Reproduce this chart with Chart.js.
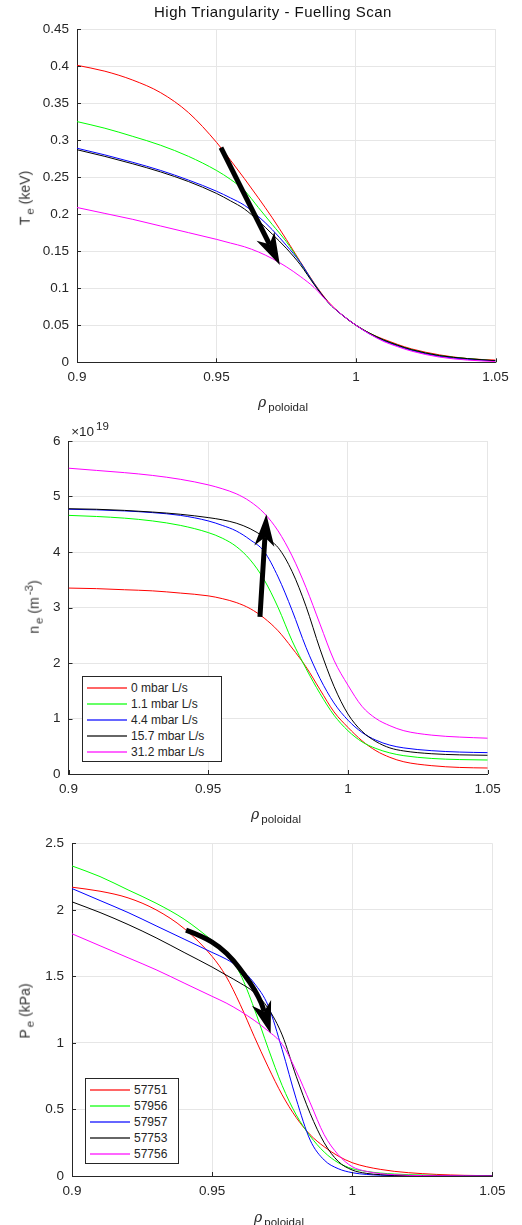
<!DOCTYPE html>
<html>
<head>
<meta charset="utf-8">
<script src="https://cdn.jsdelivr.net/npm/chart.js@4.4.1/dist/chart.umd.min.js"></script>
<style>
  body { margin: 0; background: #fff; }
  #fig { position: relative; width: 522px; height: 1225px; font-family: "Liberation Sans", Arial, sans-serif; color: #262626; }
  canvas { position: absolute; left: 0; }
  .t { position: absolute; white-space: nowrap; font-size: 14px; line-height: 1; transform: translate(-50%, -50%); }
  .rot { transform: translate(-50%, -50%) rotate(-90deg); color: #333; }
  .sb { font-size: 11.5px; position: relative; top: 4px; margin-left: 2px; }
  .sp { font-size: 11.5px; position: relative; top: -6px; margin-left: 2px; }
  .rho { font-style: italic; font-family: "DejaVu Serif", serif; }
  .legend { position: absolute; border: 1px solid #262626; background: #fff; font-size: 12px; }
  .row { position: absolute; left: 0; height: 16px; }
  .row i { position: absolute; width: 40px; height: 0; border-top: 2px solid; }
  .row span { position: absolute; line-height: 1; white-space: nowrap; transform: translateY(-50%); }
</style>
</head>
<body>
<div id="fig">
  <canvas id="teChart" width="522" height="400" style="top:0px"></canvas>
  <canvas id="neChart" width="522" height="420" style="top:400px"></canvas>
  <canvas id="peChart" width="522" height="405" style="top:820px"></canvas>

  <div class="t" style="left:273px; top:11px; color:#111; font-size:15px; letter-spacing:0.5px;">High Triangularity - Fuelling Scan</div>

  <div class="t rot" style="left:25px; top:198px;">T<span class="sb">e</span> (keV)</div>
  <div class="t" style="left:283px; top:402px;"><span class="rho">ρ</span><span class="sb">poloidal</span></div>

  <div class="t" style="left:90px; top:432px; font-size:13.5px;">×10<span class="sp">19</span></div>
  <div class="t rot" style="left:34px; top:607px;">n<span class="sb">e</span> (m<span class="sp">-3</span>)</div>
  <div class="t" style="left:276px; top:814px;"><span class="rho">ρ</span><span class="sb">poloidal</span></div>

  <div class="t rot" style="left:25px; top:1011px;">P<span class="sb">e</span> (kPa)</div>
  <div class="t" style="left:279px; top:1217px;"><span class="rho">ρ</span><span class="sb">poloidal</span></div>

  <div class="legend" id="neLegend" style="left:82px; top:676px; width:138px; height:84px;"></div>
  <div class="legend" id="peLegend" style="left:85px; top:1078px; width:92px; height:84px;"></div>
</div>

<script>
// normalised poloidal flux coordinate, shared by all profiles
const rho = [0.9, 0.91, 0.92, 0.93, 0.94, 0.95, 0.955, 0.96, 0.965, 0.97, 0.975, 0.98,
  0.985, 0.99, 0.995, 1.0, 1.005, 1.01, 1.015, 1.02, 1.03, 1.04, 1.05];

// electron temperature, keV
const te_57751 = [0.401, 0.393, 0.381, 0.364, 0.337, 0.297, 0.273, 0.248, 0.222, 0.195, 0.166, 0.136, 0.107, 0.082, 0.064, 0.050, 0.039, 0.031, 0.024, 0.018, 0.010, 0.005, 0.003];
const te_57956 = [0.325, 0.316, 0.305, 0.293, 0.278, 0.259, 0.247, 0.232, 0.209, 0.186, 0.163, 0.135, 0.106, 0.081, 0.064, 0.050, 0.039, 0.030, 0.023, 0.017, 0.009, 0.005, 0.002];
const te_57957 = [0.289, 0.280, 0.270, 0.259, 0.246, 0.231, 0.222, 0.212, 0.197, 0.179, 0.158, 0.135, 0.106, 0.081, 0.064, 0.050, 0.038, 0.029, 0.022, 0.016, 0.008, 0.004, 0.002];
const te_57753 = [0.287, 0.278, 0.268, 0.257, 0.244, 0.228, 0.218, 0.207, 0.191, 0.173, 0.154, 0.132, 0.105, 0.081, 0.064, 0.050, 0.039, 0.030, 0.023, 0.017, 0.009, 0.005, 0.002];
const te_57756 = [0.209, 0.201, 0.193, 0.184, 0.175, 0.166, 0.161, 0.156, 0.149, 0.140, 0.129, 0.116, 0.101, 0.081, 0.064, 0.050, 0.038, 0.028, 0.021, 0.015, 0.007, 0.003, 0.001];

// electron density, 1e19 m^-3
const ne_57751 = [3.35, 3.34, 3.32, 3.30, 3.26, 3.21, 3.16, 3.09, 2.98, 2.81, 2.58, 2.27, 1.93, 1.52, 1.12, 0.84, 0.60, 0.42, 0.30, 0.22, 0.15, 0.118, 0.108];
const ne_57956 = [4.66, 4.64, 4.61, 4.56, 4.48, 4.35, 4.25, 4.10, 3.86, 3.50, 3.00, 2.40, 1.90, 1.45, 1.06, 0.78, 0.58, 0.46, 0.38, 0.33, 0.28, 0.26, 0.252];
const ne_57957 = [4.77, 4.76, 4.74, 4.71, 4.66, 4.56, 4.48, 4.38, 4.22, 4.01, 3.55, 2.95, 2.28, 1.72, 1.28, 0.97, 0.75, 0.61, 0.52, 0.47, 0.42, 0.395, 0.385];
const ne_57753 = [4.78, 4.77, 4.75, 4.72, 4.68, 4.62, 4.58, 4.52, 4.42, 4.27, 4.08, 3.65, 3.02, 2.25, 1.58, 1.08, 0.77, 0.585, 0.47, 0.415, 0.365, 0.345, 0.337];
const ne_57756 = [5.51, 5.47, 5.43, 5.38, 5.31, 5.21, 5.14, 5.05, 4.91, 4.70, 4.38, 3.93, 3.36, 2.70, 2.05, 1.60, 1.22, 1.00, 0.87, 0.78, 0.70, 0.665, 0.645];

// electron pressure, kPa
const pe_57751 = [2.17, 2.14, 2.09, 2.00, 1.86, 1.65, 1.50, 1.29, 1.05, 0.82, 0.61, 0.44, 0.31, 0.22, 0.15, 0.10, 0.07, 0.05, 0.035, 0.025, 0.012, 0.005, 0.002];
const pe_57956 = [2.33, 2.25, 2.15, 2.05, 1.93, 1.77, 1.68, 1.52, 1.26, 0.96, 0.68, 0.46, 0.30, 0.18, 0.10, 0.055, 0.035, 0.022, 0.015, 0.010, 0.005, 0.002, 0.001];
const pe_57957 = [2.16, 2.07, 1.98, 1.88, 1.78, 1.68, 1.63, 1.56, 1.45, 1.28, 0.95, 0.58, 0.27, 0.12, 0.055, 0.025, 0.012, 0.006, 0.003, 0.002, 0.001, 0.0, 0.0];
const pe_57753 = [2.06, 1.98, 1.89, 1.79, 1.68, 1.57, 1.51, 1.45, 1.38, 1.26, 1.06, 0.75, 0.47, 0.25, 0.11, 0.045, 0.02, 0.01, 0.005, 0.003, 0.001, 0.0, 0.0];
const pe_57756 = [1.82, 1.73, 1.64, 1.55, 1.45, 1.35, 1.30, 1.24, 1.17, 1.09, 0.99, 0.79, 0.55, 0.31, 0.16, 0.07, 0.035, 0.018, 0.01, 0.005, 0.002, 0.001, 0.0];

const fuelling_labels = ['0 mbar L/s', '1.1 mbar L/s', '4.4 mbar L/s', '15.7 mbar L/s', '31.2 mbar L/s'];
const shot_labels = ['57751', '57956', '57957', '57753', '57756'];

// trend arrows, in data units
const te_arrow_x = [0.9516, 0.9727];
const te_arrow_y = [0.290, 0.1315];
const ne_arrow_x = [0.9685, 0.9708];
const ne_arrow_y = [2.83, 4.68];
const pe_arrow_x = [0.9407, 0.9469, 0.9528, 0.9576, 0.9617, 0.9653, 0.9677, 0.9709];
const pe_arrow_y = [1.847, 1.797, 1.721, 1.622, 1.509, 1.396, 1.297, 1.071];

const colours = ['#ff0000', '#00ff00', '#0000ff', '#000000', '#ff00ff'];
const legendColours = ['rgba(255,0,0,0.6)', 'rgba(0,255,0,0.6)', 'rgba(0,0,255,0.6)', 'rgba(0,0,0,0.6)', 'rgba(255,0,255,0.6)'];
const axisColour = '#262626';
const gridColour = '#e6e6e6';

Chart.defaults.font.family = '"Liberation Sans", Arial, sans-serif';
Chart.defaults.font.size = 13.5;
Chart.defaults.color = axisColour;

const fmt = v => String(+Number(v).toFixed(3));

function arrowPlugin(ax, ay) {
  return {
    id: 'arrow',
    afterDatasetsDraw(chart) {
      const {ctx, scales: {x, y}} = chart;
      const pts = ax.map((v, i) => [x.getPixelForValue(v), y.getPixelForValue(ay[i])]);
      const tip = pts[pts.length - 1];
      const prev = pts[pts.length - 2];
      const a = Math.atan2(tip[1] - prev[1], tip[0] - prev[0]);
      const len = 32, half = 10, back = 23;
      const c = Math.cos(a), s = Math.sin(a);
      const notch = [tip[0] - back * c, tip[1] - back * s];
      const shaft = pts.slice(0, -1).concat([notch]);

      ctx.save();
      ctx.strokeStyle = '#000';
      ctx.fillStyle = '#000';
      ctx.lineWidth = 5;
      ctx.lineJoin = 'round';
      ctx.beginPath();
      ctx.moveTo(shaft[0][0], shaft[0][1]);
      for (let i = 1; i < shaft.length - 1; i++) {
        const mx = (shaft[i][0] + shaft[i + 1][0]) / 2;
        const my = (shaft[i][1] + shaft[i + 1][1]) / 2;
        ctx.quadraticCurveTo(shaft[i][0], shaft[i][1], mx, my);
      }
      ctx.lineTo(notch[0], notch[1]);
      ctx.stroke();

      const bx = tip[0] - len * c, by = tip[1] - len * s;
      ctx.beginPath();
      ctx.moveTo(tip[0], tip[1]);
      ctx.lineTo(bx + half * s, by - half * c);
      ctx.lineTo(notch[0], notch[1]);
      ctx.lineTo(bx - half * s, by + half * c);
      ctx.closePath();
      ctx.fill();
      ctx.restore();
    }
  };
}

// matlab style ticks pointing into the axes
const inTicks = {
  id: 'inTicks',
  afterDraw(chart) {
    const {ctx, chartArea: area, scales: {x, y}} = chart;
    ctx.save();
    ctx.strokeStyle = axisColour;
    ctx.lineWidth = 1;
    ctx.beginPath();
    x.ticks.forEach(t => {
      const px = Math.round(x.getPixelForValue(t.value)) + 0.5;
      ctx.moveTo(px, area.bottom);
      ctx.lineTo(px, area.bottom - 4);
    });
    y.ticks.forEach(t => {
      const py = Math.round(y.getPixelForValue(t.value)) + 0.5;
      ctx.moveTo(area.left, py);
      ctx.lineTo(area.left + 4, py);
    });
    ctx.stroke();
    ctx.restore();
  }
};

function makeChart(id, series, yMax, yStep, area, ax, ay) {
  const datasets = series.map((values, i) => ({
    data: values.map((v, j) => ({x: rho[j], y: v})),
    borderColor: colours[i],
    borderWidth: 1,
    pointRadius: 0,
    fill: false,
    cubicInterpolationMode: 'monotone',
    order: -i
  }));
  return new Chart(document.getElementById(id), {
    type: 'line',
    data: {datasets: datasets},
    options: {
      responsive: false,
      animation: false,
      layout: {padding: {top: area.top, right: area.right, left: 0, bottom: 0}},
      plugins: {legend: {display: false}, tooltip: {enabled: false}},
      scales: {
        x: {
          type: 'linear', min: 0.9, max: 1.05,
          ticks: {stepSize: 0.05, padding: 7, maxRotation: 0, autoSkip: false, callback: fmt},
          grid: {color: gridColour, drawTicks: false},
          border: {color: axisColour},
          afterFit: s => { s.height = area.xHeight; }
        },
        y: {
          type: 'linear', min: 0, max: yMax,
          ticks: {stepSize: yStep, padding: 8, autoSkip: false, callback: fmt},
          grid: {color: gridColour, drawTicks: false},
          border: {color: axisColour},
          afterFit: s => { s.width = area.left; }
        }
      }
    },
    plugins: [inTicks, arrowPlugin(ax, ay)]
  });
}

function makeLegend(id, labels, firstRow) {
  const box = document.getElementById(id);
  labels.forEach((label, i) => {
    const row = document.createElement('div');
    row.className = 'row';
    row.style.top = (firstRow + i * 16) + 'px';
    row.innerHTML = '<i style="left:4px; top:-1px; border-color:' + legendColours[i] + '"></i>' +
      '<span style="left:48px; top:0px">' + label + '</span>';
    box.appendChild(row);
  });
}

makeChart('teChart', [te_57751, te_57956, te_57957, te_57753, te_57756], 0.45, 0.05,
  {top: 29, right: 26.5, left: 77, xHeight: 37.7}, te_arrow_x, te_arrow_y);
makeChart('neChart', [ne_57751, ne_57956, ne_57957, ne_57753, ne_57756], 6, 1,
  {top: 41, right: 34.3, left: 68.5, xHeight: 46}, ne_arrow_x, ne_arrow_y);
makeChart('peChart', [pe_57751, pe_57956, pe_57957, pe_57753, pe_57756], 2.5, 0.5,
  {top: 23.3, right: 29.7, left: 72, xHeight: 49}, pe_arrow_x, pe_arrow_y);

makeLegend('neLegend', fuelling_labels, 11);
makeLegend('peLegend', shot_labels, 11);
</script>
</body>
</html>
